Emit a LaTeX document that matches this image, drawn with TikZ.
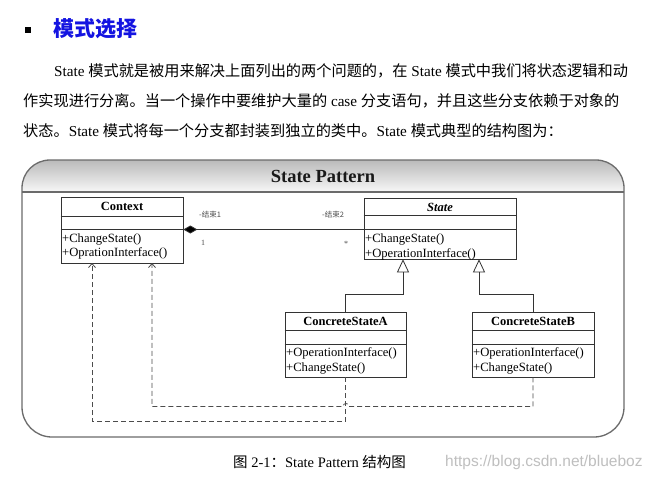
\documentclass[tikz,border=0pt]{standalone}
\usepackage{fontspec}
\setmainfont{Liberation Serif}
\newfontfamily\cjk{Noto Sans CJK SC}
\newfontfamily\wmfont{Liberation Sans}
\usetikzlibrary{arrows.meta}
\XeTeXlinebreaklocale "zh"
\XeTeXlinebreakskip=0pt plus 1pt
\definecolor{headblue}{RGB}{20,20,225}
\newcommand{\fixsp}{\spaceskip=3.8pt\relax}
\begin{document}
\begin{tikzpicture}[x=1pt,y=-1pt,
  umlbox/.style={draw=black!80, line width=0.7pt, fill=white, inner sep=0pt, rectangle},
  boxline/.style={draw=black!80, line width=0.7pt},
  clsname/.style={font=\bfseries\fontsize{12.5}{14}\selectfont, inner sep=0pt},
  ops/.style={font=\fontsize{12.6}{14}\selectfont, inner sep=0pt, anchor=west},
  lbl/.style={font=\cjk\fontsize{7.5}{9}\selectfont, text=black!70, inner sep=0pt, anchor=west},
  mult/.style={font=\fontsize{8}{9}\selectfont, text=black!70, inner sep=0pt, anchor=west},
  para/.style={font=\fontsize{15.2}{18}\selectfont, inner sep=0pt, anchor=west},
  dep/.style={draw=black!70, line width=0.8pt, dash pattern=on 5pt off 3pt, -{Straight Barb[length=4pt,width=7pt]}},
  gen/.style={draw=black!80, line width=0.8pt, -{Triangle[open,length=13pt,width=12pt,fill=white]}},
  comp/.style={draw=black!80, line width=0.8pt, {Diamond[length=14pt,width=8pt,fill=black]}-},
  frameline/.style={draw=black!58, line width=1.3pt}
]
\fill[white] (0,0) rectangle (655,477);
\useasboundingbox (0,0) rectangle (655,477);

% heading
\node[fill=black, minimum size=6.5pt, inner sep=0pt] (bullet) at (28,30) {};
\node[anchor=west, font=\cjk\bfseries\fontsize{21}{24}\selectfont, text=headblue, inner sep=0pt] (head) at (53,29) {模式选择};

% paragraph
\node[para] (l1) at (54,71) {\fixsp\hbox to 572pt{State {\cjk 模式就是被用来解决上面列出的两个问题的，在} State {\cjk 模式中我们将状态逻辑和动}}};
\node[para] (l2) at (23,101) {\fixsp\hbox to 603pt{{\cjk 作实现进行分离。当一个操作中要维护大量的} case {\cjk 分支语句，并且这些分支依赖于对象的}}};
\node[para] (l3) at (23,131) {\fixsp{\cjk 状态。}State {\cjk 模式将每一个分支都封装到独立的类中。}State {\cjk 模式典型的结构图为：}};

% frame
\shade[top color=black!27, bottom color=black!3]
  (22,192) -- (22,188) .. controls (22,172.5) and (34.5,160) .. (50,160) -- (596,160)
  .. controls (611.5,160) and (624,172.5) .. (624,188) -- (624,192) -- cycle;
\draw[frameline]
  (22,192) -- (22,188) .. controls (22,172.5) and (34.5,160) .. (50,160) -- (596,160)
  .. controls (611.5,160) and (624,172.5) .. (624,188) -- (624,407)
  .. controls (624,423.6) and (610.6,437) .. (594,437) -- (52,437)
  .. controls (35.4,437) and (22,423.6) .. (22,407) -- cycle;
\draw[frameline] (22,192) -- (624,192);
\node[font=\bfseries\fontsize{18.5}{22}\selectfont, text=black!90, inner sep=0pt] (title) at (323,176) {State Pattern};

% Context
\node[umlbox, minimum width=122pt, minimum height=66pt] (ctx) at (122,230) {};
\draw[boxline] (ctx.west |- 0,216) -- (ctx.east |- 0,216);
\draw[boxline] (ctx.west |- 0,229) -- (ctx.east |- 0,229);
\node[clsname] (ctxname) at (122,206.5) {Context};
\node[ops] (ctxop1) at (62,239.5) {+ChangeState()};
\node[ops] (ctxop2) at (62,253) {+OprationInterface()};

% State
\node[umlbox, minimum width=152.5pt, minimum height=61.3pt] (state) at (440.25,228.65) {};
\draw[boxline] (state.west |- 0,215) -- (state.east |- 0,215);
\draw[boxline] (state.west |- 0,229.3) -- (state.east |- 0,229.3);
\node[clsname] (statename) at (440,207) {\textit{State}};
\node[ops] (stop1) at (365,239.5) {+ChangeState()};
\node[ops] (stop2) at (365,254) {+OperationInterface()};

% ConcreteStateA
\node[umlbox, minimum width=121pt, minimum height=65pt] (sa) at (345.5,344.5) {};
\draw[boxline] (sa.west |- 0,330) -- (sa.east |- 0,330);
\draw[boxline] (sa.west |- 0,344) -- (sa.east |- 0,344);
\node[clsname] (saname) at (345.5,321) {ConcreteStateA};
\node[ops] (saop1) at (286,353.5) {+OperationInterface()};
\node[ops] (saop2) at (286,368) {+ChangeState()};

% ConcreteStateB
\node[umlbox, minimum width=122pt, minimum height=65pt] (sb) at (533,344.5) {};
\draw[boxline] (sb.west |- 0,330) -- (sb.east |- 0,330);
\draw[boxline] (sb.west |- 0,344) -- (sb.east |- 0,344);
\node[clsname] (sbname) at (533,321) {ConcreteStateB};
\node[ops] (sbop1) at (473,353.5) {+OperationInterface()};
\node[ops] (sbop2) at (473,368) {+ChangeState()};

% association
\draw[comp] (ctx.east |- 0,229.5) -- (state.west |- 0,229.5);
\node[lbl] (e1) at (199,215) {-结束1};
\node[lbl] (e2) at (322,215) {-结束2};
\node[mult] (m1) at (201,243) {1};
\node[mult] (m2) at (344,244) {*};

% generalization
\coordinate (ta) at (403,259.3);
\coordinate (tb) at (479,259.3);
\draw[gen] (sa.north) |- (403,294) -- (ta);
\draw[gen] (sb.north) |- (479,294) -- (tb);

% dependencies
\coordinate (ca) at (92,263);
\coordinate (cb) at (152,263);
\draw[dep] (sa.south) |- (92,421.5) -- (ca);
\draw[dep] (sb.south) |- (349,406.5) .. controls (349,402.5) and (343,402.5) .. (343,406.5) -- (152,406.5) -- (cb);

% caption
\node[font=\fontsize{14.5}{17}\selectfont, inner sep=0pt, anchor=west] (cap) at (233,462) {{\cjk 图} 2-1{\cjk ：}State Pattern {\cjk 结构图}};
\node[font=\wmfont\fontsize{15.5}{18}\selectfont, text=black!25, inner sep=0pt, anchor=west] (wm) at (445,462) {https://blog.csdn.net/blueboz};
\end{tikzpicture}
\end{document}
